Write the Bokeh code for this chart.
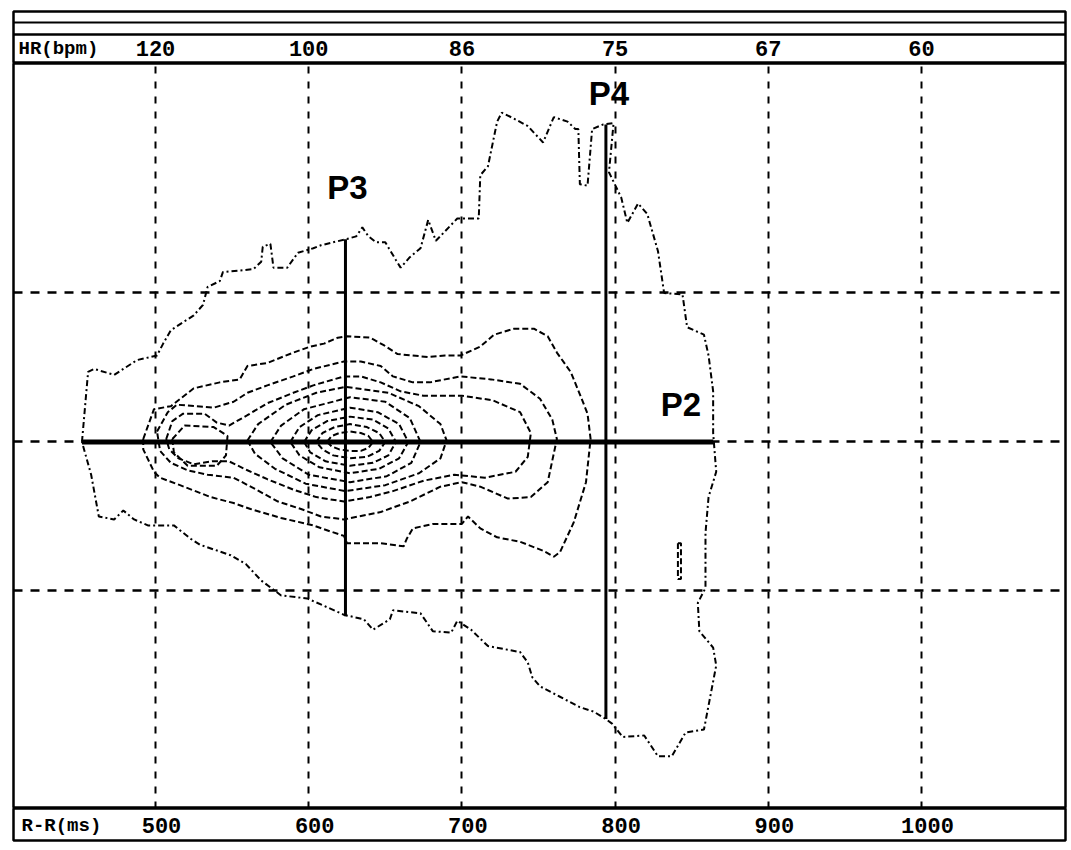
from bokeh.plotting import figure
from bokeh.layouts import column
from bokeh.models import FixedTicker, Range1d, Grid, Span
from bokeh.core.properties import value
from bokeh.embed import file_html
from bokeh.resources import INLINE

# ---------------- data ----------------
rr_ticks = [500, 600, 700, 800, 900, 1000]
hr_labels = ["120", "100", "86", "75", "67", "60"]
rr_labels = ["500", "600", "700", "800", "900", "1000"]
dy_grid = [-100, 0, 100]

# outermost contour (R-R ms, dRR ms)
outer_pts = [(452, 0), (456, 47), (460, 49), (473, 45), (488, 55), (501, 58), (505, 66), (510, 75),
             (525, 85), (531, 92), (534, 104), (542, 108), (544, 114), (564, 116), (569, 121), (570, 131),
             (575, 133), (577, 117), (586, 117), (593, 127), (603, 130), (608, 132), (624, 136), (631, 138),
             (635, 144), (639, 138), (644, 134), (650, 134), (657, 122), (660, 117), (666, 124), (673, 130),
             (678, 149), (683, 135), (697, 150), (711, 150), (712, 179), (717, 185), (723, 215), (726, 221),
             (734, 217), (743, 212), (753, 201), (760, 218), (769, 215), (774, 210), (776, 210), (777, 173),
             (782, 172), (785, 210), (792, 213), (799, 214), (796, 181), (804, 164), (808, 147), (815, 160),
             (821, 153), (828, 128), (832, 100), (844, 99), (847, 77), (858, 72), (861, 58), (864, 34),
             (864, 6), (866, -20), (861, -37), (859, -61), (859, -98), (854, -108), (855, -127), (864, -138),
             (866, -150), (858, -193), (846, -195), (837, -211), (828, -211), (819, -197), (805, -198),
             (798, -189), (794, -186), (786, -181), (777, -178), (764, -171), (751, -164), (746, -158),
             (743, -148), (738, -141), (717, -137), (706, -126), (697, -120), (693, -128), (681, -127),
             (673, -115), (655, -113), (653, -119), (642, -126), (636, -119), (623, -116), (610, -110),
             (599, -105), (582, -103), (569, -93), (559, -82), (549, -76), (529, -69), (523, -65), (512, -56),
             (495, -56), (486, -52), (479, -46), (473, -52), (463, -50), (458, -22), (452, 0)]

c2_pts = [(492, 2), (499, 22), (510, 24), (525, 36), (542, 40), (555, 42), (560, 51), (573, 53), (590, 60),
          (601, 64), (610, 66), (619, 70), (625, 71), (640, 70), (649, 65), (658, 59), (678, 57), (689, 58),
          (699, 58), (712, 64), (721, 72), (734, 76), (747, 76), (756, 71), (762, 60), (771, 47), (777, 32),
          (782, 19), (784, 2), (781, -27), (773, -54), (764, -74), (760, -77), (753, -73), (738, -67),
          (723, -64), (712, -58), (704, -50), (700, -55), (681, -55), (668, -58), (664, -65), (662, -70),
          (647, -68), (625, -68), (623, -63), (614, -60), (603, -56), (582, -51), (562, -45), (551, -41),
          (536, -37), (516, -29), (503, -24), (499, -20), (492, -5), (492, 2)]

c3_pts = [(501, 7), (508, 20), (514, 25), (538, 23), (551, 27), (560, 33), (573, 38), (590, 44), (603, 49),
          (623, 54), (634, 54), (647, 51), (655, 44), (668, 40), (679, 40), (699, 44), (719, 42), (738, 39),
          (751, 29), (759, 15), (762, 2), (756, -27), (745, -37), (730, -38), (712, -30), (700, -27),
          (686, -30), (666, -40), (647, -47), (623, -52), (608, -50), (595, -45), (580, -40), (564, -31),
          (551, -24), (534, -22), (521, -19), (510, -14), (503, -6), (501, 7)]

c4_pts = [(507, 2), (511, 14), (518, 19), (532, 19), (540, 13), (548, 11), (560, 18), (573, 26), (590, 33),
          (603, 38), (623, 44), (634, 44), (647, 40), (660, 34), (675, 31), (700, 31), (720, 28), (738, 20),
          (745, 6), (743, -10), (735, -20), (715, -24), (695, -22), (675, -26), (655, -33), (640, -37),
          (623, -40), (605, -37), (590, -32), (573, -25), (560, -19), (548, -13), (537, -13), (525, -15),
          (515, -11), (509, -5), (507, 2)]

c5_pts = [(560, 1), (567, 12), (585, 25), (605, 33), (624, 37), (652, 33), (672, 24), (686, 12), (690, 1),
          (686, -11), (672, -21), (650, -29), (624, -33), (598, -28), (578, -18), (565, -8), (560, 1)]

c5b_pts = [(511, 2), (519, 11), (538, 10), (547, 4), (546, -9), (540, -16), (521, -16), (512, -7), (511, 2)]

c6_pts = [(575, 0), (582, 11), (597, 22), (627, 30), (650, 27), (666, 16), (673, 0), (667, -14), (651, -23),
          (627, -27), (600, -22), (583, -11), (575, 0)]

c7_pts = [(588, 0), (594, 10), (606, 18), (627, 23), (645, 20), (659, 12), (665, 0), (659, -11), (646, -18),
          (627, -21), (607, -17), (594, -9), (588, 0)]

c8_pts = [(597, 0), (602, 8), (612, 14), (627, 17), (642, 15), (652, 9), (657, 0), (652, -9), (642, -14),
          (627, -16), (611, -13), (601, -7), (597, 0)]

c9_pts = [(605, 0), (609, 6), (617, 10), (627, 12), (638, 10), (646, 6), (650, 0), (646, -6), (638, -10),
          (627, -11), (616, -9), (609, -5), (605, 0)]

c10_pts = [(612, 0), (615, 4), (620, 6), (627, 7), (634, 6), (639, 4), (642, 0), (639, -4), (634, -6),
           (627, -6), (620, -5), (615, -3), (612, 0)]

island_pts = [(841, -68), (843, -68), (843, -92), (841, -92), (841, -68)]

p2_x, p2_y = [452, 864], [0, 0]
p3_x, p3_y = [624, 624], [136, -117]
p4_x, p4_y = [794, 794], [213, -186]

# ---------------- layout ----------------
W = 1071
PX_PER_MS = 1.532
X_REF_PX, X_REF_MS = 155, 500
LEFT, RIGHT = 13, 1065
x0 = X_REF_MS - (X_REF_PX - LEFT) / PX_PER_MS
x1 = X_REF_MS + (RIGHT - X_REF_PX) / PX_PER_MS

FONT = value("Liberation Mono")
BOLD = value("Liberation Sans")


def band(height, top_border, bottom_border):
    f = figure(width=W, height=height, x_range=Range1d(x0, x1), y_range=Range1d(0, height - top_border - bottom_border),
               toolbar_location=None, output_backend="svg", x_axis_location=None,
               y_axis_location=None, min_border_left=LEFT, min_border_right=W - RIGHT,
               min_border_top=top_border, min_border_bottom=bottom_border)
    f.grid.visible = False
    f.outline_line_color = "black"
    f.outline_line_width = 2.5
    f.background_fill_color = "white"
    f.border_fill_color = "white"
    return f


# top band: outer frame (top edge) + inner frame line + HR box
top = band(63, 11, 0)
top.add_layout(Span(location=41, dimension="width", line_color="black", line_width=2))
top.add_layout(Span(location=29, dimension="width", line_color="black", line_width=2.5))
top.text(x=rr_ticks, y=15, text=hr_labels, text_align="center", text_baseline="middle",
         text_font=FONT, text_font_size="22px", text_font_style="bold", text_color="black")
top.text(x=[x0], y=15, text=["HR(bpm)"], x_offset=5, text_align="left", text_baseline="middle",
         text_font=FONT, text_font_size="19px", text_font_style="bold", text_color="black")

p = figure(width=W, height=745, x_range=Range1d(x0, x1), y_range=Range1d(-246, 254),
           toolbar_location=None, output_backend="svg", x_axis_location=None, y_axis_location=None,
           min_border_left=LEFT, min_border_right=W - RIGHT, min_border_top=0, min_border_bottom=0)
p.grid.visible = False
p.outline_line_color = "black"
p.outline_line_width = 2.5
p.add_layout(Grid(dimension=0, ticker=FixedTicker(ticks=rr_ticks), grid_line_color="black",
                  grid_line_width=2, grid_line_dash="7 8", level="underlay"))
p.add_layout(Grid(dimension=1, ticker=FixedTicker(ticks=dy_grid), grid_line_color="black",
                  grid_line_width=2.5, grid_line_dash="9 8", level="underlay"))

inner = [c2_pts, c3_pts, c4_pts, c5_pts, c5b_pts, c6_pts, c7_pts, c8_pts, c9_pts, c10_pts, island_pts]
p.multi_line(xs=[[a for a, b in c] for c in inner], ys=[[b for a, b in c] for c in inner],
             line_color="black", line_width=2, line_dash="6 3")
p.line([a for a, b in outer_pts], [b for a, b in outer_pts], line_color="black", line_width=2,
       line_dash="6 3 2 3")

p.line(p2_x, p2_y, line_color="black", line_width=5)
p.line(p3_x, p3_y, line_color="black", line_width=3)
p.line(p4_x, p4_y, line_color="black", line_width=3)

lab = dict(text_font=BOLD, text_font_size="33px", text_font_style="bold", text_color="black")
p.text(x=[p3_x[0]], y=[p3_y[0]], text=["P3"], text_align="center", text_baseline="alphabetic",
       y_offset=-52, x_offset=2, **lab)
p.text(x=[p4_x[0]], y=[p4_y[0]], text=["P4"], text_align="center", text_baseline="alphabetic",
       y_offset=-31, x_offset=3, **lab)
p.text(x=[p2_x[1]], y=[p2_y[1]], text=["P2"], text_align="right", text_baseline="alphabetic",
       y_offset=-37, x_offset=-12, **lab)

bottom = band(42, 0, 10)
bottom.text(x=rr_ticks, y=15, text=rr_labels, text_align="center", text_baseline="middle", x_offset=6,
            text_font=FONT, text_font_size="22px", text_font_style="bold", text_color="black")
bottom.text(x=[x0], y=15, text=["R-R(ms)"], x_offset=8, text_align="left", text_baseline="middle",
            text_font=FONT, text_font_size="19px", text_font_style="bold", text_color="black")

layout = column(top, p, bottom, spacing=0)
open("out.html", "w").write(file_html(layout, INLINE))
